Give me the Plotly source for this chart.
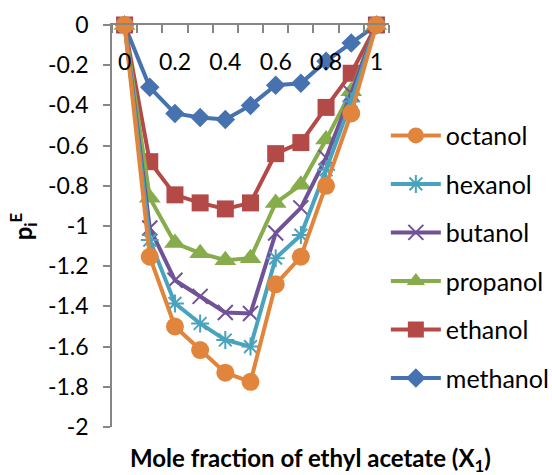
import plotly.graph_objects as go

x_vals = [0, 0.1, 0.2, 0.3, 0.4, 0.5, 0.6, 0.7, 0.8, 0.9, 1.0]

methanol = [0, -0.31, -0.44, -0.46, -0.47, -0.40, -0.30, -0.29, -0.18, -0.09, 0]
ethanol = [0, -0.68, -0.845, -0.885, -0.915, -0.885, -0.64, -0.585, -0.41, -0.24, 0]
propanol = [0, -0.86, -1.085, -1.135, -1.17, -1.16, -0.885, -0.795, -0.57, -0.33, 0]
butanol = [0, -1.01, -1.27, -1.35, -1.43, -1.435, -1.035, -0.91, -0.66, -0.34, 0]
hexanol = [0, -1.07, -1.385, -1.485, -1.567, -1.60, -1.16, -1.045, -0.72, -0.38, 0]
octanol = [0, -1.153, -1.50, -1.617, -1.73, -1.775, -1.29, -1.153, -0.80, -0.44, 0]

y_ticks = [0, -0.2, -0.4, -0.6, -0.8, -1, -1.2, -1.4, -1.6, -1.8, -2]
y_tick_text = ["0", "-0.2", "-0.4", "-0.6", "-0.8", "-1", "-1.2", "-1.4", "-1.6", "-1.8", "-2"]
x_ticks = [0, 0.2, 0.4, 0.6, 0.8, 1.0]
x_tick_text = ["0", "0.2", "0.4", "0.6", "0.8", "1"]

series = [
    ("methanol", methanol, "#4672B0", dict(symbol="diamond", size=15), 6),
    ("ethanol", ethanol, "#B44A47", dict(symbol="square", size=17), 5),
    ("propanol", propanol, "#86AC4C", dict(symbol="triangle-up", size=19), 4),
    ("butanol", butanol, "#6F5396", dict(symbol="x-thin", size=15, line=dict(width=2)), 3),
    ("hexanol", hexanol, "#4AA3BD", dict(symbol="asterisk", size=15, line=dict(width=2)), 2),
    ("octanol", octanol, "#E2853C", dict(symbol="circle", size=18), 1),
]

fig = go.Figure()
for name, vals, color, mk, rank in series:
    m = dict(mk)
    m["color"] = color
    if "line" in m:
        m["line"] = dict(m["line"], color=color)
    fig.add_trace(go.Scatter(
        x=x_vals, y=vals, name=name, mode="lines+markers",
        line=dict(color=color, width=4), marker=m,
        legendgroup=name, legendrank=rank, cliponaxis=False,
    ))

# invisible helper trace so the label-only overlay axis is drawn
fig.add_trace(go.Scatter(x=[None], y=[None], xaxis="x2", yaxis="y",
                         showlegend=False, hoverinfo="skip"))

axis_gray = "#868686"
FONT = "Lato, Carlito, Calibri, sans-serif"
XRANGE = [-0.05, 1.05]
fig.update_layout(
    width=552, height=475,
    margin=dict(l=112, r=163, t=25, b=48, autoexpand=False),
    paper_bgcolor="white", plot_bgcolor="white",
    font=dict(family=FONT, size=23, color="black"),
    showlegend=True,
    legend=dict(xref="container", x=0.699, y=0.782, xanchor="left", yanchor="top",
                traceorder="grouped", tracegroupgap=13,
                itemwidth=50, font=dict(size=25),
                bgcolor="rgba(0,0,0,0)"),
    xaxis=dict(
        range=XRANGE, side="top", anchor="y",
        showticklabels=False, ticks="",
        showline=True, linecolor=axis_gray, linewidth=1.5,
        showgrid=False, zeroline=False,
        minor=dict(tickvals=[-0.05 + 0.1 * i for i in range(12)],
                   ticks="inside", ticklen=8, tickcolor=axis_gray, tickwidth=1.5),
    ),
    xaxis2=dict(
        range=XRANGE, overlaying="x", anchor="free", position=0.948, side="bottom",
        tickvals=x_ticks, ticktext=x_tick_text, ticks="", tickfont=dict(size=23),
        showline=False, showgrid=False, zeroline=False,
    ),
    yaxis=dict(
        range=[-2, 0],
        tickvals=y_ticks, ticktext=y_tick_text,
        tickfont=dict(size=23),
        ticks="outside", ticklen=7, tickcolor=axis_gray, tickwidth=1.5,
        ticklabelstandoff=10,
        showline=True, linecolor=axis_gray, linewidth=1.5,
        showgrid=False, zeroline=False,
    ),
    annotations=[
        dict(text="<b>p<sub>i</sub><sup>E</sup></b>", xref="paper", yref="paper",
             x=-0.32, y=0.5, xanchor="center", yanchor="middle",
             textangle=-90, showarrow=False, font=dict(size=24)),
        dict(text="<b>Mole fraction of ethyl acetate (X<sub>1</sub>)</b>",
             xref="paper", yref="paper", x=0.715, y=-0.082,
             xanchor="center", yanchor="middle", showarrow=False,
             font=dict(size=24)),
    ],
)

fig.write_html("out.html")
